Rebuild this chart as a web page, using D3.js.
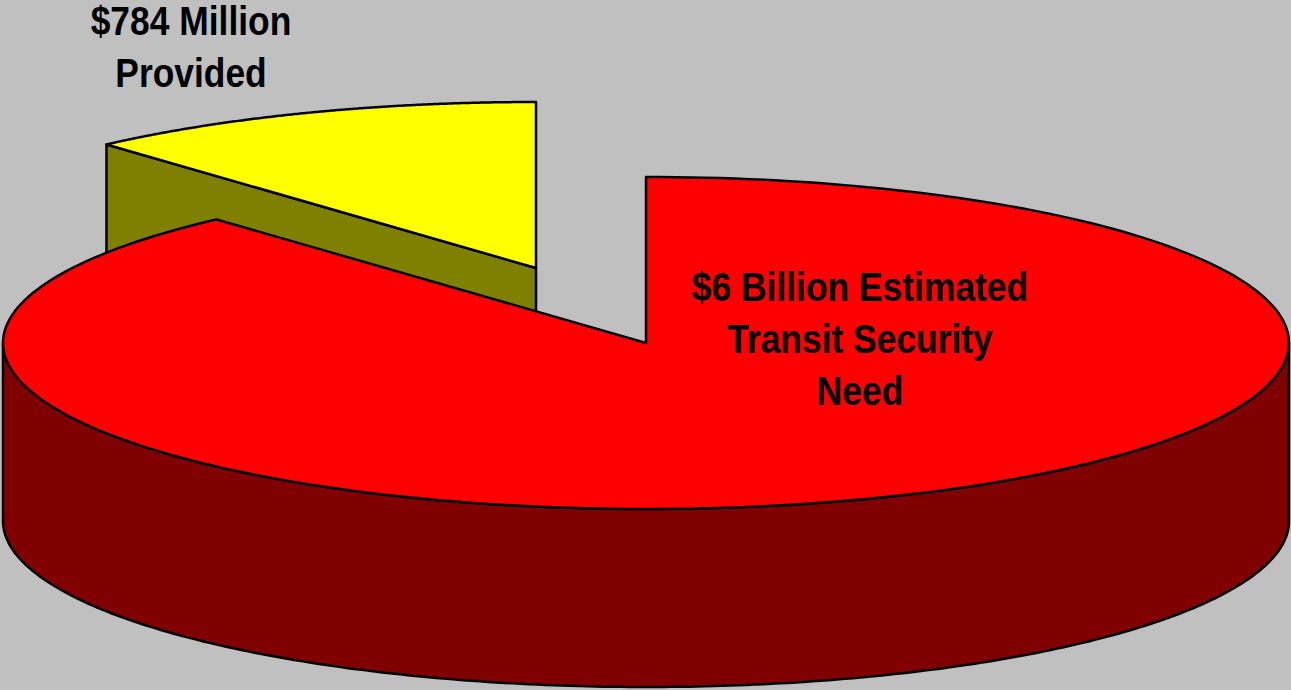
<!DOCTYPE html>
<html><head><meta charset="utf-8">
<script src="https://cdn.jsdelivr.net/npm/d3@7/dist/d3.min.js"></script>
<style>html,body{margin:0;padding:0;background:#c0c0c0;overflow:hidden}svg{display:block}
text{font-family:"Liberation Sans",sans-serif;font-weight:bold;font-size:41.5px;fill:#000;text-anchor:middle}</style>
</head><body><script>
const categories = ["$6 Billion Estimated Transit Security Need", "$784 Million Provided"];
const values = [5950, 784];
const topColors = ["#ff0000", "#ffff00"];
const sideColors = ["#800000", "#808000"];
const labels = [["$6 Billion Estimated","Transit Security","Need"],["$784 Million","Provided"]];

const W=1291,H=690,cx=646,cy=343,rx=643,ry=166,depth=178,explodeX=-110,explodeY=-75,narrow=0.853;
const svg=d3.select("body").append("svg").attr("width",W).attr("height",H);
svg.append("rect").attr("width",W).attr("height",H).attr("fill","#c0c0c0");
const arcs=d3.pie().sort(null).value(d=>d)(values);
const X=d3.scaleLinear().domain([-1,1]).range([cx-rx,cx+rx]);
const Y=d3.scaleLinear().domain([-1,1]).range([cy+ry,cy-ry]);
const line=d3.line();
const pt=(a,ox=0,oy=0)=>[X(Math.sin(a))+ox,Y(Math.cos(a))+oy];
const arcPts=(a0,a1,ox=0,oy=0)=>d3.range(0,241).map(i=>pt(a0+(a1-a0)*i/240,ox,oy));
const stroke=(s)=>s.attr("stroke","#000").attr("stroke-width",2.5).attr("stroke-linejoin","round");

const y=arcs[1];
const ap=[cx+explodeX,cy+explodeY];
const p0=pt(y.startAngle,explodeX,explodeY);
const down=p=>[p[0],p[1]+depth];
stroke(svg.append("path").attr("d",line([p0,ap,down(ap),down(p0)])+"Z").attr("fill",sideColors[1]));
stroke(svg.append("path").attr("d",line([ap,...arcPts(y.startAngle,y.endAngle,explodeX,explodeY)])+"Z").attr("fill",topColors[1]));

const r=arcs[0];
const topArc=arcPts(Math.PI/2,Math.PI*1.5);
stroke(svg.append("path").attr("d",line([...topArc,...topArc.slice().reverse().map(down)])+"Z").attr("fill",sideColors[0]));
stroke(svg.append("path").attr("d",line([[cx,cy],...arcPts(r.startAngle,r.endAngle)])+"Z").attr("fill",topColors[0]));

const lh=52;
const put=(t,x,yy)=>svg.append("text").attr("transform",`translate(${x},${yy}) scale(${narrow},1)`).text(t);
labels[0].forEach((t,i)=>put(t,860,301+i*lh));
labels[1].forEach((t,i)=>put(t,191,35+i*lh));
</script></body></html>
